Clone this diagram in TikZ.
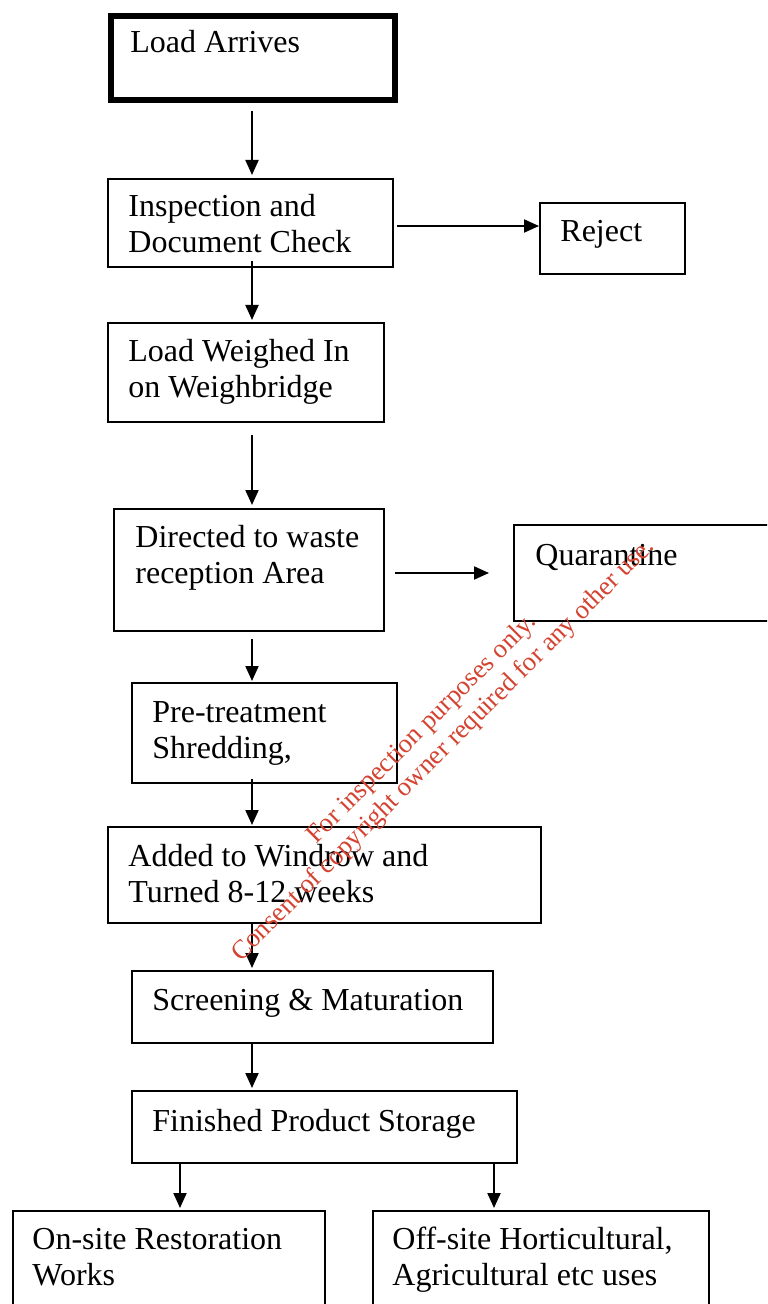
\documentclass[tikz,border=0pt]{standalone}
\usepackage{fontspec}
\setmainfont{Liberation Serif}
\usepackage{tikz}
\usetikzlibrary{arrows.meta}
\definecolor{stampred}{RGB}{212,66,48}

\begin{document}
\begin{tikzpicture}[x=0.5pt,y=-0.5pt,font=\fontsize{16}{18}\selectfont,
  stage/.style={draw,line width=1pt,anchor=north west,inner sep=0pt},
  stagetxt/.style={anchor=base west,align=left,inner sep=0pt},
  flow/.style={line width=1pt,-{Triangle[length=7.5pt,width=6.5pt]}},
  stamp/.style={text=stampred,align=center,inner sep=0pt,font=\fontsize{13.3}{15}\selectfont}]
  \useasboundingbox (0,0) rectangle (767,1304);
  \clip (0,0) rectangle (767,1304);
  % boxes, placed by their top left corner (pixel grid of the page)
  \node[stage,line width=3pt,minimum width=142pt,minimum height=42pt] (load) at (108,13) {};
  \node[stage,minimum width=142.5pt,minimum height=44pt] (insp) at (107,178) {};
  \node[stage,minimum width=72.5pt,minimum height=35.5pt] (reject) at (539,202) {};
  \node[stage,minimum width=138pt,minimum height=49.5pt] (weigh) at (107,322) {};
  \node[stage,minimum width=135pt,minimum height=61pt] (direct) at (113,508) {};
  \node[stage,minimum width=160pt,minimum height=48pt] (quar) at (513,524) {};
  \node[stage,minimum width=132.5pt,minimum height=50pt] (pre) at (131,682) {};
  \node[stage,minimum width=216.5pt,minimum height=48pt] (windrow) at (107,826) {};
  \node[stage,minimum width=180.5pt,minimum height=36pt] (screen) at (131,970) {};
  \node[stage,minimum width=192.5pt,minimum height=36pt] (store) at (131,1090) {};
  \node[stage,minimum width=156pt,minimum height=75pt] (onsite) at (12,1210) {};
  \node[stage,minimum width=168pt,minimum height=75pt] (offsite) at (372,1210) {};
  % texts sit at the top left of each box (two-line ones hang from their last line)
  \node[stagetxt] (loadtxt) at ([shift={(11pt,-20pt)}]load.north west) {Load Arrives};
  \node[stagetxt] (insptxt) at ([shift={(10.5pt,-37.5pt)}]insp.north west) {Inspection and\\Document Check};
  \node[stagetxt] (rejecttxt) at ([shift={(10.5pt,-20pt)}]reject.north west) {Reject};
  \node[stagetxt] (weightxt) at ([shift={(10.5pt,-38pt)}]weigh.north west) {Load Weighed In\\on Weighbridge};
  \node[stagetxt] (directtxt) at ([shift={(11pt,-37.5pt)}]direct.north west) {Directed to waste\\reception Area};
  \node[stagetxt] (quartxt) at ([shift={(11pt,-20.5pt)}]quar.north west) {Quarantine};
  \node[stagetxt] (pretxt) at ([shift={(10.5pt,-38pt)}]pre.north west) {Pre-treatment\\Shredding,};
  \node[stagetxt] (windrowtxt) at ([shift={(10.5pt,-38pt)}]windrow.north west) {Added to Windrow and\\Turned 8-12 weeks};
  \node[stagetxt] (screentxt) at ([shift={(10.5pt,-20pt)}]screen.north west) {Screening \& Maturation};
  \node[stagetxt] (storetxt) at ([shift={(10.5pt,-20.5pt)}]store.north west) {Finished Product Storage};
  \node[stagetxt] (onsitetxt) at ([shift={(10pt,-37.5pt)}]onsite.north west) {On-site Restoration\\Works};
  \node[stagetxt] (offsitetxt) at ([shift={(10pt,-37.5pt)}]offsite.north west) {Off-site Horticultural,\\Agricultural etc uses};
  % main line of arrows
  \coordinate (spine) at (252,0);
  \draw[flow,shorten <=4pt,shorten >=1.5pt] (load.south -| spine) -- (insp.north -| spine);
  \draw[flow,shorten <=-3.5pt,shorten >=1pt] (insp.south -| spine) -- (weigh.north -| spine);
  \draw[flow,shorten <=6pt,shorten >=1.5pt] (weigh.south -| spine) -- (direct.north -| spine);
  \draw[flow,shorten <=3.5pt,shorten >=0.5pt] (direct.south -| spine) -- (pre.north -| spine);
  \draw[flow,shorten <=-2.5pt,shorten >=0.5pt] (pre.south -| spine) -- (windrow.north -| spine);
  \draw[flow,shorten >=1pt] (windrow.south -| spine) -- (screen.north -| spine);
  \draw[flow,shorten >=1pt] (screen.south -| spine) -- (store.north -| spine);
  % side branches
  \coordinate (rejrow) at ([yshift=-1.5pt]insp.east);
  \coordinate (quarrow) at ([yshift=-1.5pt]direct.east);
  \draw[flow,shorten <=1.5pt] (rejrow) -- (rejrow -| reject.west);
  \draw[flow,shorten <=5pt,shorten >=12pt] (quarrow) -- (quarrow -| quar.west);
  % the two outlets
  \coordinate (tapL) at ([xshift=24.5pt]store.south west);
  \coordinate (tapR) at ([xshift=-12pt]store.south east);
  \draw[flow,shorten >=1pt] (tapL) -- (tapL |- onsite.north);
  \draw[flow,shorten >=1pt] (tapR) -- (tapR |- offsite.north);
  % stamp over the page
  \node[stamp,rotate=45] (notice) at (433,740) {For inspection purposes only.\\Consent of copyright owner required for any other use.};
\end{tikzpicture}
\end{document}
